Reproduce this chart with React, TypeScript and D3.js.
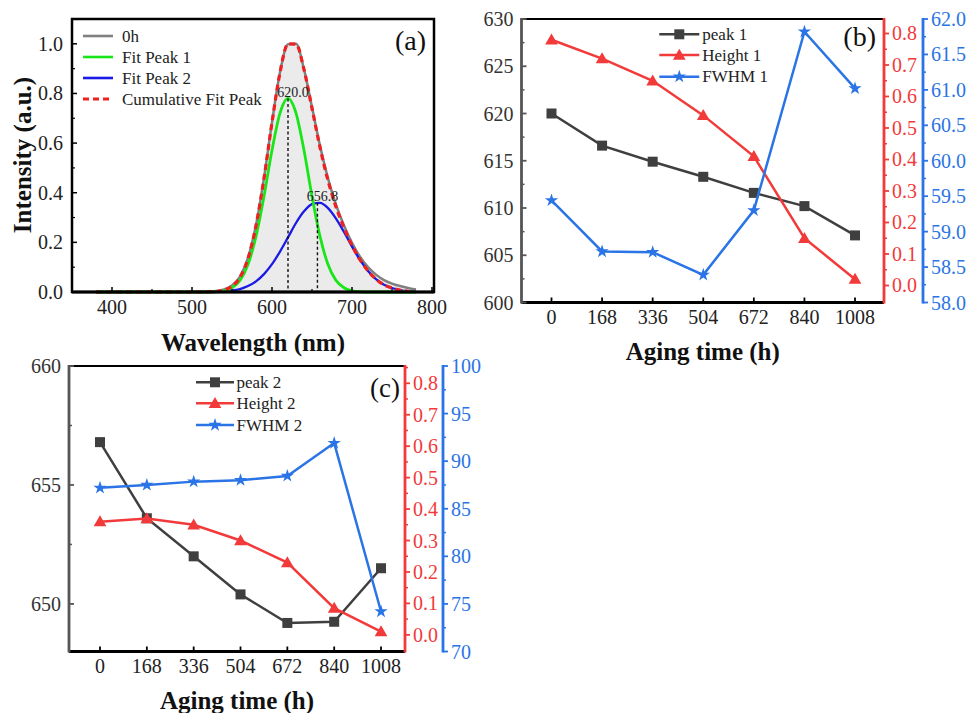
import React from 'react';
import * as d3 from 'd3';

// ---------- Panel (a) data ----------
const wavelength = [380, 390, 400, 410, 420, 430, 440, 450, 460, 470, 480, 490, 500, 510, 520, 530, 540, 550, 560, 570, 580, 590, 600, 610, 620, 630, 640, 650, 660, 670, 680, 690, 700, 710, 720, 730, 740, 750, 760, 770, 780];
const spectrum0h = [0, 0, 0, 0, 0, 0, 0, 0, 0, 0, 0, 0, 0, 0.001, 0.002, 0.004, 0.010, 0.026, 0.062, 0.138, 0.270, 0.460, 0.684, 0.885, 0.998, 1.000, 0.898, 0.745, 0.590, 0.458, 0.352, 0.268, 0.198, 0.142, 0.100, 0.070, 0.048, 0.034, 0.024, 0.016, 0.010];
const fitPeak1 = [0, 0, 0, 0, 0, 0, 0, 0, 0, 0, 0, 0, 0, 0, 0.000, 0.001, 0.005, 0.017, 0.047, 0.111, 0.224, 0.386, 0.571, 0.721, 0.780, 0.721, 0.571, 0.386, 0.224, 0.111, 0.047, 0.017, 0.005, 0.001, 0, 0, 0, 0, 0, 0, 0];
const fitPeak2 = [0, 0, 0, 0, 0, 0, 0, 0, 0, 0, 0, 0, 0, 0.000, 0.000, 0.001, 0.003, 0.006, 0.012, 0.024, 0.043, 0.072, 0.112, 0.163, 0.220, 0.278, 0.325, 0.354, 0.359, 0.338, 0.296, 0.242, 0.183, 0.129, 0.085, 0.052, 0.029, 0.016, 0.008, 0.003, 0.001];
const cumulativeFit = [0, 0, 0, 0, 0, 0, 0, 0, 0, 0, 0, 0, 0, 0, 0.001, 0.002, 0.008, 0.023, 0.059, 0.135, 0.267, 0.458, 0.683, 0.884, 1.000, 0.999, 0.896, 0.740, 0.583, 0.449, 0.343, 0.259, 0.188, 0.130, 0.085, 0.052, 0.029, 0.016, 0.008, 0.003, 0.001];
const peakCenters = [620.0, 656.8];
const peakHeights = [0.78, 0.36];
const legendA = ['0h', 'Fit Peak 1', 'Fit Peak 2', 'Cumulative Fit Peak'];
const xTicksA = [400, 500, 600, 700, 800];
const yTicksA = [0, 0.2, 0.4, 0.6, 0.8, 1.0];

// ---------- Panels (b), (c) data ----------
const agingTimes = ['0', '168', '336', '504', '672', '840', '1008'];
const peak1 = [620.0, 616.6, 614.9, 613.3, 611.6, 610.2, 607.1];
const height1 = [0.78, 0.72, 0.65, 0.54, 0.41, 0.15, 0.02];
const fwhm1 = [59.44, 58.72, 58.71, 58.39, 59.30, 61.82, 61.02];
const peak2 = [656.8, 653.6, 652.0, 650.4, 649.2, 649.25, 651.5];
const height2 = [0.36, 0.37, 0.35, 0.30, 0.23, 0.085, 0.01];
const fwhm2 = [87.2, 87.5, 87.85, 88.0, 88.45, 91.9, 74.2];
const legendB = ['peak 1', 'Height 1', 'FWHM 1'];
const legendC = ['peak 2', 'Height 2', 'FWHM 2'];

const FONT = 'Liberation Serif, Times New Roman, serif';
const RED = '#f23a3a';
const BLUE = '#2a74e6';
const DARK = '#3f3f3f';
const TXT = '#222';

function range(a: number, b: number, s: number) {
  const out: number[] = [];
  for (let v = a; v <= b + 1e-9; v += s) out.push(+v.toFixed(6));
  return out;
}

function PanelA() {
  const x = d3.scaleLinear().domain([350, 802.5]).range([72, 434]);
  const y = d3.scaleLinear().domain([0, 1.1]).range([292, 19]);
  const mk = (vals: number[]) =>
    d3.line<number>().x((_, i) => x(wavelength[i])).y((v) => y(v)).curve(d3.curveMonotoneX)(vals) || '';
  const area = d3.area<number>().x((_, i) => x(wavelength[i])).y0(y(0)).y1((v) => y(v)).curve(d3.curveMonotoneX)(spectrum0h) || '';
  const legendColors = ['#808080', '#19e619', '#1a1ae6', '#f02020'];
  return (
    <g>
      <path d={area} fill="#ebebeb" />
      <path d={mk(spectrum0h)} fill="none" stroke="#808080" strokeWidth={2.5} />
      <path d={mk(fitPeak2)} fill="none" stroke="#1a1ae6" strokeWidth={2.3} />
      <path d={mk(fitPeak1)} fill="none" stroke="#19e619" strokeWidth={2.8} />
      <path d={mk(cumulativeFit)} fill="none" stroke="#f02020" strokeWidth={3.2} strokeDasharray="6,4" />
      {peakCenters.map((c, i) => (
        <g key={'pk' + i}>
          <line x1={x(c)} x2={x(c)} y1={y(peakHeights[i])} y2={y(0)} stroke="#111" strokeWidth={1.4} strokeDasharray="3,2.5" />
          <text x={x(c) + 5} y={y(peakHeights[i]) - 1.5} fontSize={14} textAnchor="middle" fill="#222">
            {c.toFixed(1)}
          </text>
        </g>
      ))}
      <rect x={72} y={19} width={362} height={273} fill="none" stroke="#000" strokeWidth={2.5} />
      <line x1={72} x2={434} y1={292} y2={292} stroke="#000" strokeWidth={3} />
      {xTicksA.map((t) => (
        <g key={'xt' + t}>
          <line x1={x(t)} x2={x(t)} y1={292} y2={287} stroke="#000" strokeWidth={1.5} />
          <text x={x(t)} y={313.5} fontSize={20} textAnchor="middle" fill={TXT}>{t}</text>
        </g>
      ))}
      {[450, 550, 650, 750].map((t) => (
        <line key={'xm' + t} x1={x(t)} x2={x(t)} y1={292} y2={289} stroke="#000" strokeWidth={1.2} />
      ))}
      {yTicksA.map((t) => (
        <g key={'yt' + t}>
          <line x1={72} x2={77} y1={y(t)} y2={y(t)} stroke="#000" strokeWidth={1.5} />
          <text x={63} y={y(t)} dy="0.35em" fontSize={20} textAnchor="end" fill={TXT}>{t.toFixed(1)}</text>
        </g>
      ))}
      {[0.1, 0.3, 0.5, 0.7, 0.9].map((t) => (
        <line key={'ym' + t} x1={72} x2={75} y1={y(t)} y2={y(t)} stroke="#000" strokeWidth={1.2} />
      ))}
      {legendA.map((l, i) => (
        <g key={'lg' + i}>
          <line x1={83} x2={113} y1={36 + i * 21} y2={36 + i * 21} stroke={legendColors[i]} strokeWidth={i === 3 ? 3.2 : 2.6} strokeDasharray={i === 3 ? '6,4' : undefined} />
          <text x={122} y={41.5 + i * 21} fontSize={17} fill={TXT}>{l}</text>
        </g>
      ))}
      <text x={426} y={50} fontSize={28} textAnchor="end" fill="#111">(a)</text>
      <text x={253} y={351} fontSize={25} fontWeight="bold" textAnchor="middle" fill="#111">Wavelength (nm)</text>
      <text transform="translate(31,155) rotate(-90)" fontSize={25} fontWeight="bold" textAnchor="middle" fill="#111">Intensity (a.u.)</text>
    </g>
  );
}

type DualCfg = {
  x0: number; x1: number; y0: number; y1: number; blueX: number;
  xDom: [number, number];
  leftDom: [number, number]; leftTicks: number[]; leftMinor: number[];
  redDom: [number, number];
  blueDom: [number, number]; blueTicks: number[]; blueMinor: number[]; blueFmt: (v: number) => string;
  peak: number[]; height: number[]; fwhm: number[];
  legend: string[]; legX0: number; legX1: number; legTextX: number; legY: number[];
  tag: string; tagX: number; tagY: number; tagSize: number;
};

function Marker({ kind, cx, cy, color }: { kind: string; cx: number; cy: number; color: string }) {
  if (kind === 'square') return <rect x={cx - 5} y={cy - 5} width={10} height={10} fill={color} />;
  const sym = kind === 'tri' ? d3.symbolTriangle : d3.symbolStar;
  const size = kind === 'tri' ? 70 : 55;
  const p = d3.symbol().type(sym).size(size)() || '';
  return <path d={p} transform={`translate(${cx},${cy + (kind === 'tri' ? 1 : 0)})`} fill={color} />;
}

function DualPanel({ c }: { c: DualCfg }) {
  const x = d3.scaleLinear().domain(c.xDom).range([c.x0, c.x1]);
  const yl = d3.scaleLinear().domain(c.leftDom).range([c.y1, c.y0]);
  const yr = d3.scaleLinear().domain(c.redDom).range([c.y1, c.y0]);
  const yb = d3.scaleLinear().domain(c.blueDom).range([c.y1, c.y0]);
  const line = (vals: number[], s: d3.ScaleLinear<number, number>) =>
    d3.line<number>().x((_, i) => x(i)).y((v) => s(v))(vals) || '';
  const redTicks = range(0, 0.8, 0.1);
  const redMinor = range(0.05, 0.85, 0.1).filter((v) => yr(v) >= c.y0);
  const series = [
    { vals: c.peak, s: yl, color: DARK, kind: 'square' },
    { vals: c.height, s: yr, color: RED, kind: 'tri' },
    { vals: c.fwhm, s: yb, color: BLUE, kind: 'star' },
  ];
  return (
    <g>
      {series.map((se, k) => (
        <g key={'s' + k}>
          <path d={line(se.vals, se.s)} fill="none" stroke={se.color} strokeWidth={2.5} />
          {se.vals.map((v, i) => (
            <Marker key={i} kind={se.kind} cx={x(i)} cy={se.s(v)} color={se.color} />
          ))}
        </g>
      ))}
      <line x1={c.x0} x2={c.x1} y1={c.y0} y2={c.y0} stroke="#000" strokeWidth={2} />
      <line x1={c.x0} x2={c.x1} y1={c.y1} y2={c.y1} stroke="#000" strokeWidth={3} />
      <line x1={c.x0} x2={c.x0} y1={c.y0 - 1} y2={c.y1 + 1} stroke="#555" strokeWidth={2.8} />
      <line x1={c.x1} x2={c.x1} y1={c.y0 - 1} y2={c.y1 + 1} stroke={RED} strokeWidth={2.8} />
      <line x1={c.blueX} x2={c.blueX} y1={c.y0 - 1} y2={c.y1 + 1} stroke={BLUE} strokeWidth={2.8} />
      {agingTimes.map((t, i) => (
        <g key={'xt' + i}>
          <line x1={x(i)} x2={x(i)} y1={c.y1} y2={c.y1 - 5} stroke="#000" strokeWidth={1.8} />
          <text x={x(i)} y={c.y1 + 21} fontSize={20} textAnchor="middle" fill={TXT}>{t}</text>
        </g>
      ))}
      {c.leftTicks.map((t) => (
        <g key={'lt' + t}>
          <line x1={c.x0} x2={c.x0 + 5} y1={yl(t)} y2={yl(t)} stroke="#555" strokeWidth={1.8} />
          <text x={c.x0 - 8} y={yl(t)} dy="0.35em" fontSize={20} textAnchor="end" fill="#333">{t}</text>
        </g>
      ))}
      {c.leftMinor.map((t) => (
        <line key={'lm' + t} x1={c.x0} x2={c.x0 + 3} y1={yl(t)} y2={yl(t)} stroke="#555" strokeWidth={1.5} />
      ))}
      {redTicks.map((t) => (
        <g key={'rt' + t}>
          <line x1={c.x1} x2={c.x1 + 5} y1={yr(t)} y2={yr(t)} stroke={RED} strokeWidth={1.8} />
          <text x={c.x1 + 8} y={yr(t)} dy="0.35em" fontSize={20} fill={RED}>{t.toFixed(1)}</text>
        </g>
      ))}
      {redMinor.map((t) => (
        <line key={'rm' + t} x1={c.x1} x2={c.x1 + 3} y1={yr(t)} y2={yr(t)} stroke={RED} strokeWidth={1.5} />
      ))}
      {c.blueTicks.map((t) => (
        <g key={'bt' + t}>
          <line x1={c.blueX} x2={c.blueX + 5} y1={yb(t)} y2={yb(t)} stroke={BLUE} strokeWidth={1.8} />
          <text x={c.blueX + 8} y={yb(t)} dy="0.35em" fontSize={20} fill={BLUE}>{c.blueFmt(t)}</text>
        </g>
      ))}
      {c.blueMinor.map((t) => (
        <line key={'bm' + t} x1={c.blueX} x2={c.blueX + 3} y1={yb(t)} y2={yb(t)} stroke={BLUE} strokeWidth={1.5} />
      ))}
      {series.map((se, k) => (
        <g key={'lg' + k}>
          <line x1={c.legX0} x2={c.legX1} y1={c.legY[k]} y2={c.legY[k]} stroke={se.color} strokeWidth={2.5} />
          <Marker kind={se.kind} cx={(c.legX0 + c.legX1) / 2} cy={c.legY[k]} color={se.color} />
          <text x={c.legTextX} y={c.legY[k] + 5.5} fontSize={17} fill={TXT}>{c.legend[k]}</text>
        </g>
      ))}
      <text x={c.tagX} y={c.tagY} fontSize={c.tagSize} textAnchor="end" fill="#111">{c.tag}</text>
      <text x={(c.x0 + c.x1) / 2} y={c.y1 + 57.5} fontSize={25} fontWeight="bold" textAnchor="middle" fill="#111">Aging time (h)</text>
    </g>
  );
}

const cfgB: DualCfg = {
  x0: 521.5, x1: 884, y0: 19, y1: 302.5, blueX: 923,
  xDom: [-0.593, 6.573],
  leftDom: [600, 630], leftTicks: [600, 605, 610, 615, 620, 625, 630], leftMinor: [602.5, 607.5, 612.5, 617.5, 622.5, 627.5],
  redDom: [-0.054, 0.846],
  blueDom: [58, 62], blueTicks: range(58, 62, 0.5), blueMinor: range(58.25, 61.75, 0.5), blueFmt: (v) => v.toFixed(1),
  peak: peak1, height: height1, fwhm: fwhm1,
  legend: legendB, legX0: 659.3, legX1: 699.3, legTextX: 702.3, legY: [34.3, 55, 76.7],
  tag: '(b)', tagX: 876, tagY: 46, tagSize: 28,
};

const cfgC: DualCfg = {
  x0: 69, x1: 405, y0: 366, y1: 651.5, blueX: 443,
  xDom: [-0.662, 6.512],
  leftDom: [648, 660], leftTicks: [650, 655, 660], leftMinor: [652.5, 657.5],
  redDom: [-0.053, 0.855],
  blueDom: [70, 100], blueTicks: range(70, 100, 5), blueMinor: range(72.5, 97.5, 5), blueFmt: (v) => String(v),
  peak: peak2, height: height2, fwhm: fwhm2,
  legend: legendC, legX0: 196, legX1: 234, legTextX: 236.5, legY: [382.3, 403.3, 425],
  tag: '(c)', tagX: 400, tagY: 397, tagSize: 27,
};

export default function App() {
  return (
    <svg width={967} height={713} style={{ position: 'absolute', left: 0, top: 0, background: '#fff' }} fontFamily={FONT}>
      <rect width={967} height={713} fill="#fff" />
      <PanelA />
      <DualPanel c={cfgB} />
      <DualPanel c={cfgC} />
    </svg>
  );
}
